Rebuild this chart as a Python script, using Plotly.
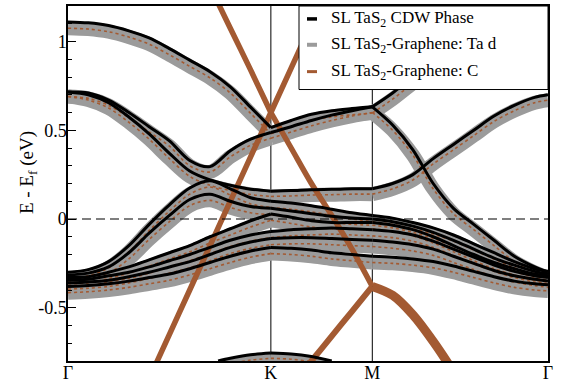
import plotly.graph_objects as go

# ---------------- data ----------------
# k-path coordinate: Gamma=0, K=1, M=1.5, Gamma=2.366
K_PATH = [0, .1, .2, .3, .4, .5, .6, .7, .8, .9, 1.0, 1.1, 1.2, 1.3, 1.4, 1.5,
          1.6, 1.7, 1.8, 1.9, 2.0, 2.1, 2.2, 2.3, 2.366]
TICK_POS = [0, 1.0, 1.5, 2.366]
TICK_LABELS = ["Γ", "K", "M", "Γ"]

# SL TaS2 CDW phase (black)
cdw_b1 = [1.11, 1.105, 1.09, 1.06, 1.02, 0.96, 0.895, 0.83, 0.745, 0.63, 0.515, 0.555, 0.59, 0.61, 0.622, 0.632, 0.71, 0.80, 0.89, 0.96, 1.02, 1.06, 1.09, 1.105, 1.11]
cdw_b2 = [0.716, 0.71, 0.67, 0.60, 0.52, 0.44, 0.33, 0.295, 0.385, 0.45, 0.487, 0.52, 0.555, 0.585, 0.61, 0.632, 0.53, 0.39, 0.20, 0.06, -0.03, -0.12, -0.21, -0.27, -0.30]
cdw_b3 = [0.716, 0.70, 0.655, 0.575, 0.48, 0.37, 0.27, 0.22, 0.19, 0.168, 0.157, 0.16, 0.165, 0.167, 0.17, 0.17, 0.20, 0.25, 0.34, 0.42, 0.50, 0.58, 0.64, 0.685, 0.70]
cdw_b4 = [-0.30, -0.285, -0.24, -0.15, -0.03, 0.08, 0.175, 0.215, 0.17, 0.12, 0.10, 0.09, 0.075, 0.055, 0.035, 0.02, 0.005, -0.02, -0.05, -0.09, -0.14, -0.19, -0.24, -0.28, -0.295]
cdw_b5 = [-0.315, -0.305, -0.27, -0.19, -0.08, 0.02, 0.11, 0.14, 0.10, 0.07, 0.06, 0.045, 0.03, 0.015, 0.005, 0.0, -0.015, -0.04, -0.075, -0.12, -0.17, -0.22, -0.26, -0.295, -0.31]
cdw_b6 = [-0.33, -0.325, -0.30, -0.27, -0.23, -0.19, -0.15, -0.10, -0.055, -0.01, 0.028, 0.01, -0.01, -0.02, -0.02, -0.02, -0.035, -0.06, -0.10, -0.15, -0.20, -0.245, -0.28, -0.31, -0.32]
cdw_b7 = [-0.345, -0.34, -0.32, -0.30, -0.27, -0.235, -0.20, -0.16, -0.12, -0.09, -0.07, -0.06, -0.055, -0.05, -0.055, -0.06, -0.07, -0.09, -0.125, -0.17, -0.215, -0.26, -0.295, -0.32, -0.33]
cdw_b8 = [-0.36, -0.355, -0.345, -0.325, -0.30, -0.27, -0.24, -0.20, -0.16, -0.13, -0.11, -0.105, -0.105, -0.11, -0.115, -0.12, -0.13, -0.145, -0.17, -0.21, -0.25, -0.29, -0.32, -0.34, -0.35]
cdw_b9 = [-0.38, -0.375, -0.365, -0.35, -0.33, -0.31, -0.28, -0.245, -0.21, -0.18, -0.16, -0.165, -0.175, -0.19, -0.20, -0.21, -0.215, -0.225, -0.24, -0.265, -0.295, -0.325, -0.35, -0.365, -0.37]
K_LOW = [0.74, 0.8, 0.9, 1.0, 1.1, 1.2, 1.3]
cdw_low = [-0.80, -0.785, -0.765, -0.755, -0.76, -0.775, -0.80]

# SL TaS2-Graphene bands (gray = Ta d weight, thin brown = C weight)
het_b1 = [1.075, 1.07, 1.055, 1.025, 0.985, 0.925, 0.86, 0.795, 0.71, 0.595, 0.48, 0.52, 0.555, 0.575, 0.587, 0.597, 0.675, 0.765, 0.855, 0.925, 0.985, 1.025, 1.055, 1.07, 1.075]
het_b2 = [0.69, 0.68, 0.64, 0.57, 0.49, 0.41, 0.30, 0.265, 0.35, 0.415, 0.455, 0.49, 0.525, 0.555, 0.58, 0.60, 0.50, 0.36, 0.17, 0.03, -0.06, -0.15, -0.24, -0.30, -0.33]
het_b3 = [0.69, 0.67, 0.625, 0.545, 0.45, 0.34, 0.24, 0.19, 0.16, 0.138, 0.127, 0.13, 0.135, 0.137, 0.14, 0.14, 0.17, 0.22, 0.31, 0.39, 0.47, 0.55, 0.61, 0.655, 0.67]
het_b4 = [-0.335, -0.32, -0.275, -0.185, -0.065, 0.045, 0.14, 0.18, 0.135, 0.085, 0.065, 0.055, 0.04, 0.02, 0.0, -0.015, -0.03, -0.055, -0.085, -0.125, -0.175, -0.225, -0.275, -0.315, -0.33]
het_b5 = [-0.35, -0.34, -0.305, -0.225, -0.115, -0.015, 0.075, 0.105, 0.065, 0.035, 0.025, 0.01, -0.005, -0.02, -0.03, -0.035, -0.05, -0.075, -0.11, -0.155, -0.205, -0.255, -0.295, -0.33, -0.345]
het_b6 = [-0.365, -0.36, -0.335, -0.305, -0.265, -0.225, -0.185, -0.135, -0.09, -0.045, -0.007, -0.025, -0.045, -0.055, -0.055, -0.055, -0.07, -0.095, -0.135, -0.185, -0.235, -0.28, -0.315, -0.345, -0.355]
het_b7 = [-0.38, -0.375, -0.355, -0.335, -0.305, -0.27, -0.235, -0.195, -0.155, -0.125, -0.105, -0.095, -0.09, -0.085, -0.09, -0.095, -0.105, -0.125, -0.16, -0.205, -0.25, -0.295, -0.33, -0.355, -0.365]
het_b8 = [-0.395, -0.39, -0.38, -0.36, -0.335, -0.305, -0.275, -0.235, -0.195, -0.165, -0.145, -0.14, -0.14, -0.145, -0.15, -0.155, -0.165, -0.18, -0.205, -0.245, -0.285, -0.325, -0.355, -0.375, -0.385]
het_b9 = [-0.415, -0.41, -0.40, -0.385, -0.365, -0.345, -0.315, -0.28, -0.245, -0.215, -0.195, -0.20, -0.21, -0.225, -0.235, -0.245, -0.25, -0.26, -0.275, -0.30, -0.33, -0.36, -0.385, -0.40, -0.405]
het_low = [-0.83, -0.815, -0.795, -0.785, -0.79, -0.805, -0.83]

# graphene-derived bands (strong C weight)
K_G1 = [0.7, 0.8, 0.9, 1.0, 1.1, 1.2, 1.3, 1.4, 1.5]
gra_1 = [1.31, 1.075, 0.84, 0.60, 0.40, 0.20, 0.02, -0.17, -0.38]
K_G1B = [1.5, 1.6, 1.7, 1.8, 1.9]
gra_1b = [-0.38, -0.43, -0.54, -0.69, -0.86]
K_G2 = [0.4, 0.5, 0.6, 0.7, 0.8, 0.9, 1.0, 1.1, 1.2, 1.3]
gra_2 = [-0.90, -0.65, -0.40, -0.15, 0.10, 0.35, 0.60, 0.85, 1.10, 1.35]
K_G3 = [1.1, 1.2, 1.3, 1.4, 1.5]
gra_3 = [-0.94, -0.80, -0.66, -0.52, -0.38]

CDW_BANDS = [cdw_b1, cdw_b2, cdw_b3, cdw_b4, cdw_b5, cdw_b6, cdw_b7, cdw_b8, cdw_b9]
HET_BANDS = [het_b1, het_b2, het_b3, het_b4, het_b5, het_b6, het_b7, het_b8, het_b9]

LEGEND_NAMES = ["SL TaS<sub>2</sub> CDW Phase",
                "SL TaS<sub>2</sub>-Graphene: Ta d",
                "SL TaS<sub>2</sub>-Graphene: C"]
Y_TITLE = "E - E<sub>f</sub> (eV)"

# ---------------- styling ----------------
BLACK = "#000000"
GRAY = "#9b9b9b"
BROWN = "#a35a32"
FONT = "Liberation Serif, Times New Roman, serif"


def legs(ks, es):
    """split a band at the high-symmetry points so kinks are kept"""
    segs, ck, ce = [], [], []
    for kk, ee in zip(ks, es):
        ck.append(kk)
        ce.append(ee)
        if kk in (1.0, 1.5) and len(ck) > 1:
            segs.append((ck, ce))
            ck, ce = [kk], [ee]
    if len(ck) > 1:
        segs.append((ck, ce))
    return segs


fig = go.Figure()


def add_band(ks, es, color, width, dash="solid"):
    for sk, se in legs(ks, es):
        fig.add_trace(go.Scatter(
            x=sk, y=se, mode="lines",
            line=dict(color=color, width=width, dash=dash, shape="spline", smoothing=0.9),
            showlegend=False, hoverinfo="skip"))


# gray fat bands
for b in HET_BANDS:
    add_band(K_PATH, b, GRAY, 14)
add_band(K_LOW, het_low, GRAY, 9)
# thin brown C weight
for b in HET_BANDS:
    add_band(K_PATH, b, BROWN, 1.6, "dot")
add_band(K_LOW, het_low, BROWN, 1.6, "dot")
# graphene bands
add_band(K_G1, gra_1, BROWN, 5.5)
add_band(K_G1B, gra_1b, BROWN, 9)
add_band(K_G2, gra_2, BROWN, 5.5)
add_band(K_G3, gra_3, BROWN, 6)
# black CDW bands
for b in CDW_BANDS:
    add_band(K_PATH, b, BLACK, 3)
add_band(K_LOW, cdw_low, BLACK, 3)

# high-symmetry lines and Fermi level
for xv in TICK_POS[1:3]:
    fig.add_shape(type="line", xref="x", yref="paper", x0=xv, x1=xv, y0=0, y1=1,
                  line=dict(color=BLACK, width=1), layer="below")
fig.add_shape(type="line", xref="paper", yref="y", x0=0, x1=1, y0=0, y1=0,
              line=dict(color=BLACK, width=1.2, dash="9px,5px"), layer="above")

# manual legend
L_X0 = (299 - 68) / 480
L_Y0 = (361 - 88) / 357
fig.add_shape(type="rect", xref="paper", yref="paper", x0=L_X0, x1=1.0, y0=L_Y0, y1=1.0,
              line=dict(color=BLACK, width=1), fillcolor="white", layer="above")
row_px = [17, 43, 70]
leg_colors = [BLACK, GRAY, BROWN]
leg_widths = [3.5, 4, 3]
for name, col, w, rp in zip(LEGEND_NAMES, leg_colors, leg_widths, row_px):
    yy = (361 - rp) / 357
    fig.add_shape(type="line", xref="paper", yref="paper",
                  x0=(307 - 68) / 480, x1=(317 - 68) / 480, y0=yy, y1=yy,
                  line=dict(color=col, width=w), layer="above")
    fig.add_annotation(xref="paper", yref="paper", x=(329 - 68) / 480, y=yy,
                       text=name, showarrow=False, xanchor="left", yanchor="middle",
                       font=dict(family=FONT, size=17, color=BLACK))

# y-axis title as rotated annotation
fig.add_annotation(xref="paper", yref="paper", x=(28 - 68) / 480, y=(361 - 172) / 357,
                   text=Y_TITLE, textangle=-90, showarrow=False,
                   xanchor="center", yanchor="middle",
                   font=dict(family=FONT, size=19, color=BLACK))

fig.update_layout(
    width=570, height=389,
    margin=dict(l=68, r=22, t=4, b=28),
    paper_bgcolor="white", plot_bgcolor="white",
    showlegend=False,
    font=dict(family=FONT, size=18, color=BLACK),
)
fig.update_xaxes(range=[0, 2.366], tickvals=TICK_POS, ticktext=TICK_LABELS,
                 ticks="", showgrid=False, zeroline=False, showline=True,
                 linecolor=BLACK, linewidth=1.5, mirror=True, ticklabelstandoff=-5,
                 tickfont=dict(family=FONT, size=18))
fig.update_yaxes(range=[-0.8, 1.2], tickvals=[-0.5, 0, 0.5, 1],
                 ticktext=["-0.5", "0", "0.5", "1"],
                 ticks="inside", ticklen=8, tickwidth=1, tickcolor=BLACK,
                 minor=dict(dtick=0.1, ticks="inside", ticklen=4, tickcolor=BLACK, showgrid=False),
                 showgrid=False, zeroline=False, showline=True,
                 linecolor=BLACK, linewidth=1.5, mirror=True, ticklabelstandoff=-4,
                 tickfont=dict(family=FONT, size=18))

fig.write_html("out.html", config={"displayModeBar": False},
               post_script="document.body.style.margin='0px';")
